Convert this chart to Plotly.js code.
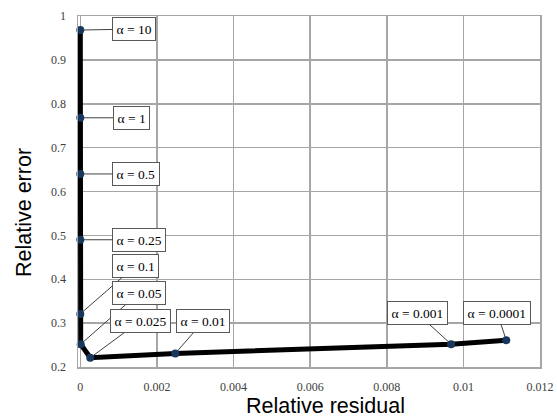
<!DOCTYPE html>
<html>
<head>
<meta charset="utf-8">
<script src="https://cdn.plot.ly/plotly-3.0.1.min.js"></script>
<style>html,body{margin:0;padding:0;background:#fff;}#chart{width:557px;height:417px;}</style>
</head>
<body>
<div id="chart"></div>
<script>
var alphaLabels = ["α = 10", "α = 1", "α = 0.5", "α = 0.25", "α = 0.1", "α = 0.05", "α = 0.025", "α = 0.01", "α = 0.001", "α = 0.0001"];
var relResidual = [0, 0, 0, 0, 0, 0.00001, 0.00026, 0.00248, 0.00968, 0.01112];
var relError = [0.968, 0.768, 0.64, 0.49, 0.321, 0.252, 0.221, 0.231, 0.252, 0.261];
var xTicks = [0, 0.002, 0.004, 0.006, 0.008, 0.01, 0.012];
var yTicks = [0.2, 0.3, 0.4, 0.5, 0.6, 0.7, 0.8, 0.9, 1];

// label box offsets (pixels) relative to each point
var offX = [54, 51, 56, 59, 55, 58, 50, 28, -34, -9];
var offY = [-1, 0, 0, 0, -48, -51, -37, -32, -31, -27];

var trace = {
  x: relResidual, y: relError, type: 'scatter', mode: 'lines+markers',
  line: {color: '#000000', width: 5},
  marker: {color: '#17375e', size: 8},
  cliponaxis: false, hoverinfo: 'skip'
};

var annotations = alphaLabels.map(function(t, i) {
  return {
    x: relResidual[i], y: relError[i], xref: 'x', yref: 'y',
    text: t, showarrow: true, arrowhead: 0, arrowwidth: 1, arrowcolor: '#404040',
    ax: offX[i], ay: offY[i],
    font: {family: 'Liberation Serif, DejaVu Serif, serif', size: 13.5, color: '#000'},
    bgcolor: '#ffffff', bordercolor: '#595959', borderwidth: 1, borderpad: 3.5,
    standoff: 3
  };
});
var L = 78, R = 17, T = 16, B = 50, W = 557, H = 417;
var pw = W - L - R, ph = H - T - B;
annotations.push({
  text: 'Relative residual', xref: 'paper', yref: 'paper',
  x: (325 - L) / pw, y: -(406 - (H - B)) / ph,
  showarrow: false, xanchor: 'center', yanchor: 'middle',
  font: {family: 'Liberation Sans, Arial, sans-serif', size: 21.5, color: '#000'}
});
annotations.push({
  text: 'Relative error', xref: 'paper', yref: 'paper',
  x: (24 - L) / pw, y: ((H - B) - 213) / ph,
  showarrow: false, textangle: -90, xanchor: 'center', yanchor: 'middle',
  font: {family: 'Liberation Sans, Arial, sans-serif', size: 21.5, color: '#000'}
});

var axisFont = {family: 'Liberation Serif, DejaVu Serif, serif', size: 12, color: '#404040'};
var layout = {
  width: W, height: H,
  margin: {l: L, r: R, t: T, b: B},
  paper_bgcolor: '#ffffff', plot_bgcolor: '#ffffff',
  showlegend: false,
  xaxis: {
    range: [-0.00006, 0.012], tickvals: xTicks, ticktext: xTicks.map(String),
    showgrid: true, gridcolor: '#a6a6a6', gridwidth: 1.5,
    showline: true, linecolor: '#a6a6a6', linewidth: 1.5, mirror: true,
    zeroline: false, ticks: '', tickfont: axisFont, ticklabelstandoff: 8
  },
  yaxis: {
    range: [0.2, 1], tickvals: yTicks, ticktext: yTicks.map(String),
    showgrid: true, gridcolor: '#a6a6a6', gridwidth: 1.5,
    showline: true, linecolor: '#a6a6a6', linewidth: 1.5, mirror: true,
    zeroline: false, ticks: '', tickfont: axisFont, ticklabelstandoff: 8
  },
  annotations: annotations
};
Plotly.newPlot('chart', [trace], layout, {displayModeBar: false, staticPlot: true});
</script>
</body>
</html>
